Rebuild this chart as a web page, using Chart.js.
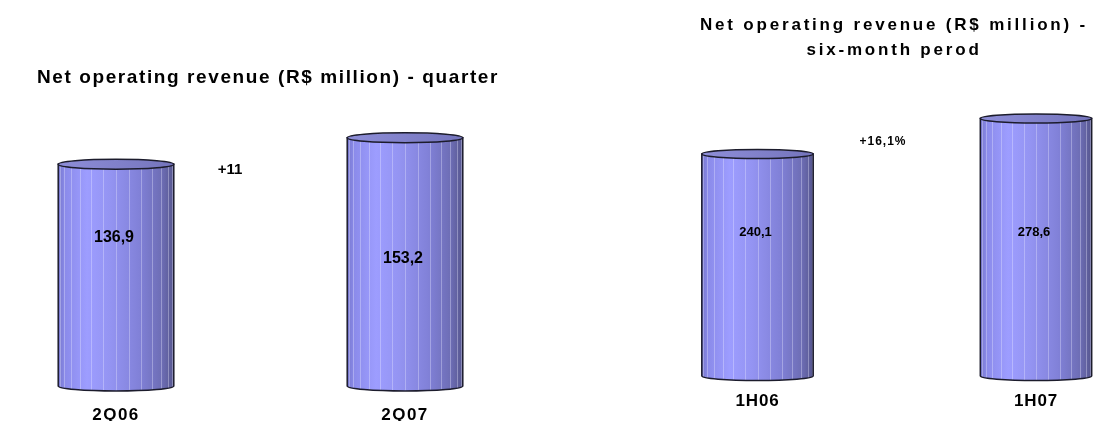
<!DOCTYPE html>
<html>
<head>
<meta charset="utf-8">
<script src="https://cdn.jsdelivr.net/npm/chart.js@4.4.0/dist/chart.umd.min.js"></script>
<style>
  html, body { margin: 0; padding: 0; background: #fff; }
  body { width: 1098px; height: 421px; position: relative; overflow: hidden; }
  .panel { position: absolute; top: 0; }
  #quarter { left: 0; }
  #semester { left: 690px; }
</style>
</head>
<body>
<div class="panel" id="quarter"><canvas id="c1" width="536" height="421"></canvas></div>
<div class="panel" id="semester"><canvas id="c2" width="408" height="421"></canvas></div>
<script>
const QUARTERS = ['2Q06', '2Q07'];
const QUARTER_REVENUE = [136.9, 153.2];
const QUARTER_GROWTH = '+11';

const HALVES = ['1H06', '1H07'];
const HALF_REVENUE = [240.1, 278.6];
const HALF_GROWTH = '+16,1%';

const FONT = "'Liberation Sans', Arial, sans-serif";
const RIBS = 14;

function drawCylinder(ctx, x, top, base, width, ry){
    const rx = width / 2;
    const left = x - rx;
    const right = x + rx;

    const side = new Path2D();
    side.moveTo(left, top);
    side.lineTo(left, base);
    side.ellipse(x, base, rx, ry, 0, Math.PI, 0, true);
    side.lineTo(right, top);
    side.closePath();

    const shade = ctx.createLinearGradient(left, 0, right, 0);
    shade.addColorStop(0, '#7676cc');
    shade.addColorStop(0.06, '#8b8bea');
    shade.addColorStop(0.25, '#9d9dff');
    shade.addColorStop(0.45, '#9494f2');
    shade.addColorStop(0.7, '#8181d8');
    shade.addColorStop(0.9, '#6d6db4');
    shade.addColorStop(1, '#56568e');
    ctx.fillStyle = shade;
    ctx.fill(side);

    // vertical ribs, spaced like lines round the curved face
    ctx.save();
    ctx.clip(side);
    ctx.strokeStyle = 'rgba(235, 235, 255, 0.35)';
    ctx.lineWidth = 1;
    for(let k = 1; k < RIBS; k++){
        const px = Math.round(x - rx * Math.cos(k * Math.PI / RIBS)) + 0.5;
        ctx.beginPath();
        ctx.moveTo(px, top);
        ctx.lineTo(px, base + ry);
        ctx.stroke();
    }
    ctx.restore();

    ctx.strokeStyle = '#1c1c2c';
    ctx.lineWidth = 1.5;
    ctx.stroke(side);

    const capShade = ctx.createLinearGradient(left, 0, right, 0);
    capShade.addColorStop(0, '#8e8ed8');
    capShade.addColorStop(1, '#7474bc');
    ctx.beginPath();
    ctx.ellipse(x, top, rx, ry, 0, 0, Math.PI * 2);
    ctx.fillStyle = capShade;
    ctx.fill();
    ctx.stroke();
}

const cylinders = {
    id: 'cylinders',
    beforeDraw(chart, args, opts){
        chart.ctx.letterSpacing = opts.titleSpacing + 'px';
    },
    afterDatasetsDraw(chart, args, opts){
        const ctx = chart.ctx;
        const values = chart.data.datasets[0].data;
        const meta = chart.getDatasetMeta(0);
        ctx.save();
        ctx.letterSpacing = '0px';
        meta.data.forEach((bar, i) => {
            const {x, y, base, width} = bar.getProps(['x', 'y', 'base', 'width'], true);
            drawCylinder(ctx, x, y, base, width, opts.capHeight);
            ctx.fillStyle = '#000';
            ctx.textAlign = 'center';
            ctx.textBaseline = 'middle';
            ctx.font = 'bold ' + opts.valueSize + 'px ' + FONT;
            ctx.fillText(values[i].toFixed(1).replace('.', ','), x - 2, y + opts.labelDrop[i]);
        });
        const area = chart.chartArea;
        ctx.font = 'bold ' + opts.note.size + 'px ' + FONT;
        ctx.letterSpacing = opts.note.spacing + 'px';
        ctx.fillText(opts.note.text, area.left + opts.note.dx, area.top + opts.note.dy);
        ctx.restore();
        // category labels are drawn after the datasets
        ctx.letterSpacing = opts.tickSpacing + 'px';
    },
    afterDraw(chart){
        chart.ctx.letterSpacing = '0px';
    }
};

function hiddenAxis(position, size){
    return {
        type: 'linear',
        position: position,
        display: true,
        ticks: { display: false },
        grid: { display: false, drawTicks: false },
        border: { display: false },
        afterFit: (s) => { s.width = size; }
    };
}

function revenueChart(canvas, labels, values, cfg){
    const yAxis = hiddenAxis('left', cfg.left);
    yAxis.min = 0;
    yAxis.max = cfg.max;
    return new Chart(canvas, {
        type: 'bar',
        data: {
            labels: labels,
            datasets: [{
                data: values,
                backgroundColor: 'rgba(0, 0, 0, 0)',
                borderWidth: 0,
                barPercentage: 1,
                categoryPercentage: 0.4
            }]
        },
        options: {
            responsive: false,
            animation: false,
            events: [],
            plugins: {
                legend: { display: false },
                tooltip: { enabled: false },
                title: {
                    display: true,
                    text: cfg.title,
                    color: '#000',
                    font: { family: FONT, size: cfg.titleSize, weight: 'bold', lineHeight: cfg.titleLine },
                    padding: { top: cfg.titleTop, bottom: cfg.titleBottom }
                },
                cylinders: {
                    titleSpacing: cfg.titleSpacing,
                    tickSpacing: cfg.tickSpacing,
                    capHeight: cfg.capHeight,
                    valueSize: cfg.valueSize,
                    labelDrop: cfg.labelDrop,
                    note: cfg.note
                }
            },
            scales: {
                x: {
                    offset: false,
                    grid: { display: false, drawTicks: false },
                    border: { display: false },
                    ticks: {
                        color: '#000',
                        padding: cfg.tickPadding,
                        z: 1,
                        font: { family: FONT, size: 17, weight: 'bold' }
                    },
                    afterFit: (s) => { s.height = cfg.axisHeight; }
                },
                y: yAxis,
                side: hiddenAxis('right', cfg.right)
            }
        },
        plugins: [cylinders]
    });
}

revenueChart(document.getElementById('c1'), QUARTERS, QUARTER_REVENUE, {
    title: 'Net operating revenue (R$ million) - quarter',
    titleSize: 19, titleLine: 1.2, titleTop: 66.6, titleBottom: 37.4, titleSpacing: 1.6,
    tickSpacing: 1.5, tickPadding: 19,
    left: 116, right: 131, axisHeight: 35, max: 160,
    capHeight: 5, valueSize: 16, labelDrop: [73, 121],
    note: { text: QUARTER_GROWTH, size: 15, spacing: 0, dx: 114, dy: 43 }
});

revenueChart(document.getElementById('c2'), HALVES, HALF_REVENUE, {
    title: ['Net operating revenue (R$ million) -', 'six-month perod'],
    titleSize: 17, titleLine: 1.47, titleTop: 12.5, titleBottom: 36.2, titleSpacing: 2.8,
    tickSpacing: 0.8, tickPadding: 15,
    left: 67.5, right: 62, axisHeight: 45, max: 300,
    capHeight: 4.5, valueSize: 13, labelDrop: [78, 113.5],
    note: { text: HALF_GROWTH, size: 12, spacing: 1, dx: 125.5, dy: 43.3 }
});
</script>
</body>
</html>
